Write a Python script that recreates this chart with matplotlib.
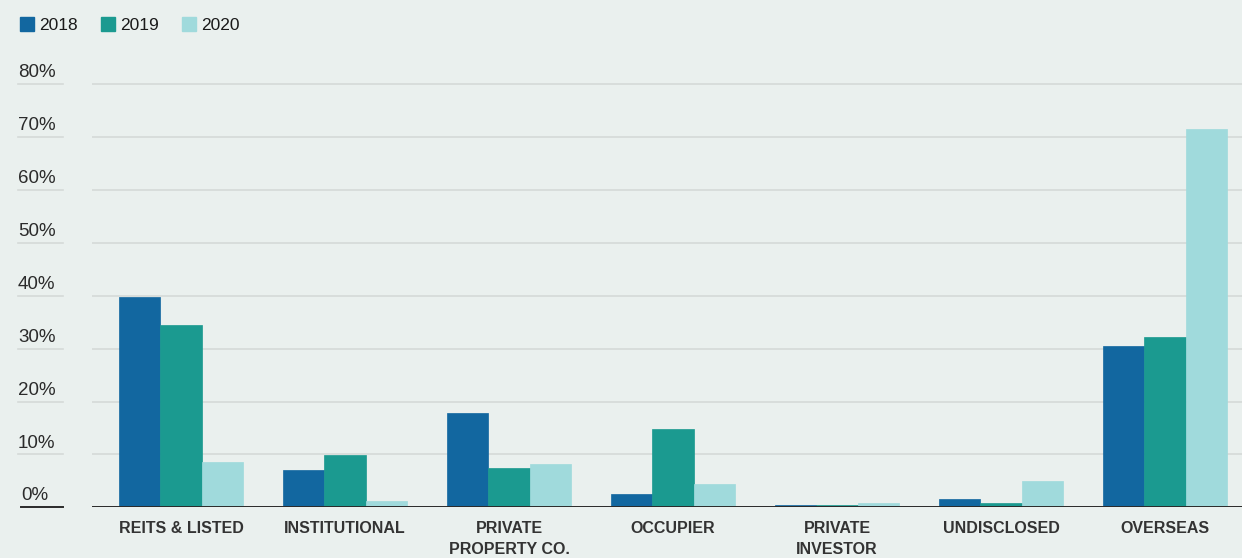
import numpy as np
import matplotlib
matplotlib.use('Agg')
import matplotlib.pyplot as plt
import matplotlib.transforms as mtrans
from matplotlib.lines import Line2D

#### Data ####

categories = ['REITS & LISTED', 'INSTITUTIONAL', 'PRIVATE\nPROPERTY CO.', 'OCCUPIER',
              'PRIVATE\nINVESTOR', 'UNDISCLOSED', 'OVERSEAS']
years = ['2018', '2019', '2020']
share_2018 = [39.7, 7.0, 17.8, 2.5, 0.4, 1.6, 30.6]
share_2019 = [34.4, 9.9, 7.4, 14.8, 0.4, 0.8, 32.2]
share_2020 = [8.6, 1.2, 8.2, 4.4, 0.8, 4.9, 71.6]
yticks = [0, 10, 20, 30, 40, 50, 60, 70, 80]
ytick_labels = ['0%', '10%', '20%', '30%', '40%', '50%', '60%', '70%', '80%']

colors = ['#1267a0', '#1b9a90', '#a0dadc']
bg = '#eaf0ee'
grid_col = '#d5dad8'
text_col = '#2b2b2b'

plt.rcParams['font.family'] = ['Liberation Sans', 'DejaVu Sans']

#### Figure ####

fig = plt.figure(figsize=(12.42, 5.58), dpi=100, facecolor=bg)
ymax = 82
ax = fig.add_axes([92/1242, (558-507.3)/558, 1 - 92/1242, 423*ymax/80/558])
ax.set_facecolor(bg)

x = np.arange(len(categories))
w = 0.252
for i, vals in enumerate([share_2018, share_2019, share_2020]):
    ax.bar(x + (i-1)*w, vals, w, color=colors[i], edgecolor=colors[i], linewidth=0.5,
           zorder=3, label=years[i])

ax.set_xlim(-0.543, 6.47)
ax.set_ylim(0, ymax)
for s in ax.spines.values():
    s.set_visible(False)

ax.set_yticks(yticks)
ax.set_yticklabels([])
ax.tick_params(axis='y', length=0)
ax.grid(axis='y', color=grid_col, linewidth=1.2, zorder=0)
ax.axhline(0, color='#2a2a2a', linewidth=1.4, zorder=4)

ax.set_xticks(x)
ax.set_xticklabels(categories, fontsize=11.5, fontweight='bold', color='#333333',
                   linespacing=1.45, va='top')
ax.tick_params(axis='x', length=0, pad=10)

# y labels sit above short segments left of the plot
tr = mtrans.blended_transform_factory(fig.transFigure, ax.transData)
for t, lab in zip(yticks, ytick_labels):
    x0 = 21/1242 if t == 0 else 18/1242
    ax.add_line(Line2D([x0, 63/1242], [t, t], transform=tr, clip_on=False,
                       color='#2a2a2a' if t == 0 else grid_col,
                       linewidth=1.4 if t == 0 else 1.2))
    ax.text(x0, t + 0.55, lab, transform=tr, fontsize=13.5, color=text_col,
            ha='left', va='bottom')

# legend
handles = [Line2D([], [], marker='s', linestyle='', markersize=9.5, color=c) for c in colors]
fig.legend(handles, years, loc='upper left', bbox_to_anchor=(4/1242, 1 - 2/558), ncol=3,
           frameon=False, fontsize=12.5, handlelength=0.8, handletextpad=0.3,
           columnspacing=1.35, labelcolor='#1a1a1a')

fig.savefig('out.png', dpi=100, facecolor=bg)
